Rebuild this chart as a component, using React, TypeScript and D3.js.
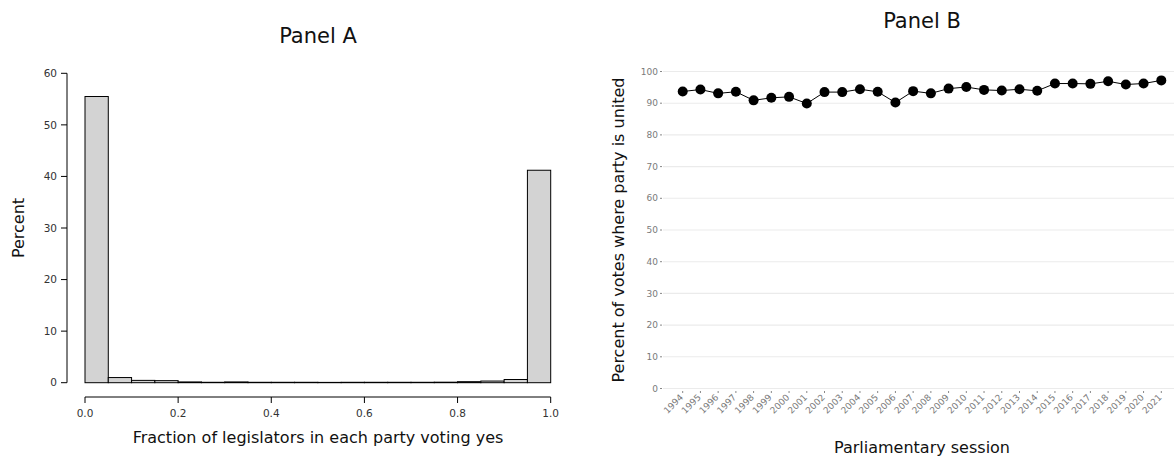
import React from "react";
import * as d3 from "d3";

// Panel A: histogram of the share of each party voting yes (percent of votes per bin)
const binEdges = d3.range(0, 1.0001, 0.05).map((v) => +v.toFixed(2));
const binPercents = [
  55.5, 1.0, 0.45, 0.4, 0.15, 0.08, 0.15, 0.08, 0.08, 0.08,
  0.06, 0.08, 0.08, 0.08, 0.08, 0.1, 0.2, 0.32, 0.62, 41.2,
];
const histXTicks = [0, 0.2, 0.4, 0.6, 0.8, 1.0];
const histYTicks = [0, 10, 20, 30, 40, 50, 60];

// Panel B: party unity by parliamentary session
const sessions = [
  "1994", "1995", "1996", "1997", "1998", "1999", "2000", "2001", "2002", "2003",
  "2004", "2005", "2006", "2007", "2008", "2009", "2010", "2011", "2012", "2013",
  "2014", "2015", "2016", "2017", "2018", "2019", "2020", "2021",
];
const unityPercent = [
  93.7, 94.3, 93.1, 93.6, 90.9, 91.7, 92.0, 89.9, 93.5, 93.5,
  94.4, 93.6, 90.2, 93.8, 93.1, 94.6, 95.1, 94.2, 94.0, 94.4,
  93.9, 96.2, 96.2, 96.1, 96.9, 95.9, 96.2, 97.2,
];
const unityTicks = [0, 10, 20, 30, 40, 50, 60, 70, 80, 90, 100];

const FONT = "'DejaVu Sans', 'Open Sans', sans-serif";

function PanelA() {
  const x = d3.scaleLinear().domain([0, 1]).range([85, 550.7]);
  const y = d3.scaleLinear().domain([0, 60]).range([382.7, 73.3]);
  const bins = binPercents.map((p, i) => ({ x0: binEdges[i], x1: binEdges[i + 1], p }));
  const axisY = 397;
  const axisX = 67;
  return (
    <g fontFamily={FONT}>
      <text x={318} y={43} textAnchor="middle" fontSize={21} fill="#111">
        Panel A
      </text>
      {bins.map((b, i) => (
        <rect
          key={i}
          x={x(b.x0)}
          y={y(b.p)}
          width={x(b.x1) - x(b.x0)}
          height={y(0) - y(b.p)}
          fill="#d3d3d3"
          stroke="#000"
          strokeWidth={1}
        />
      ))}
      {/* x axis */}
      <line x1={x(0)} x2={x(1)} y1={axisY} y2={axisY} stroke="#000" />
      {histXTicks.map((t) => (
        <g key={t}>
          <line x1={x(t)} x2={x(t)} y1={axisY} y2={axisY + 6} stroke="#000" />
          <text x={x(t)} y={axisY + 20} textAnchor="middle" fontSize={10.5} fill="#333">
            {t.toFixed(1)}
          </text>
        </g>
      ))}
      {/* y axis */}
      <line x1={axisX} x2={axisX} y1={y(0)} y2={y(60)} stroke="#000" />
      {histYTicks.map((t) => (
        <g key={t}>
          <line x1={axisX - 6} x2={axisX} y1={y(t)} y2={y(t)} stroke="#000" />
          <text x={axisX - 10} y={y(t)} dy="0.35em" textAnchor="end" fontSize={10.5} fill="#333">
            {t}
          </text>
        </g>
      ))}
      <text x={318} y={443} textAnchor="middle" fontSize={16} fill="#111">
        Fraction of legislators in each party voting yes
      </text>
      <text
        transform="translate(24,228) rotate(-90)"
        textAnchor="middle"
        fontSize={16}
        fill="#111"
      >
        Percent
      </text>
    </g>
  );
}

function PanelB() {
  const x = d3.scalePoint<string>().domain(sessions).range([682.7, 1161.3]);
  const y = d3.scaleLinear().domain([0, 100]).range([388.5, 71.5]);
  const line = d3
    .line<number>()
    .x((_, i) => x(sessions[i]) as number)
    .y((d) => y(d));
  const gridX0 = 663;
  const gridX1 = 1174;
  return (
    <g fontFamily={FONT}>
      <text x={922} y={28} textAnchor="middle" fontSize={21} fill="#111">
        Panel B
      </text>
      {unityTicks.map((t) => (
        <g key={t}>
          <line x1={gridX0} x2={gridX1} y1={y(t)} y2={y(t)} stroke="#ebebeb" strokeWidth={1.1} />
          <line x1={gridX0 - 3} x2={gridX0 - 1} y1={y(t)} y2={y(t)} stroke="#888" />
          <text x={gridX0 - 5} y={y(t)} dy="0.35em" textAnchor="end" fontSize={9} fill="#7a7a7a">
            {t}
          </text>
        </g>
      ))}
      {sessions.map((s) => (
        <g key={s}>
          <line x1={x(s)} x2={x(s)} y1={391} y2={393} stroke="#888" />
          <text
            transform={`translate(${(x(s) as number) + 1},${398}) rotate(-45)`}
            textAnchor="end"
            fontSize={9}
            fill="#7a7a7a"
          >
            {s}
          </text>
        </g>
      ))}
      <path d={line(unityPercent) || ""} fill="none" stroke="#000" strokeWidth={1} />
      {unityPercent.map((v, i) => (
        <circle key={sessions[i]} cx={x(sessions[i])} cy={y(v)} r={5} fill="#000" />
      ))}
      <text x={922} y={453} textAnchor="middle" fontSize={16} fill="#111">
        Parliamentary session
      </text>
      <text
        transform="translate(624,230) rotate(-90)"
        textAnchor="middle"
        fontSize={16}
        fill="#111"
      >
        Percent of votes where party is united
      </text>
    </g>
  );
}

export default function App() {
  return (
    <svg
      width={1174}
      height={457}
      style={{ position: "absolute", left: 0, top: 0, background: "#fff" }}
    >
      <rect width={1174} height={457} fill="#fff" />
      <PanelA />
      <PanelB />
    </svg>
  );
}
